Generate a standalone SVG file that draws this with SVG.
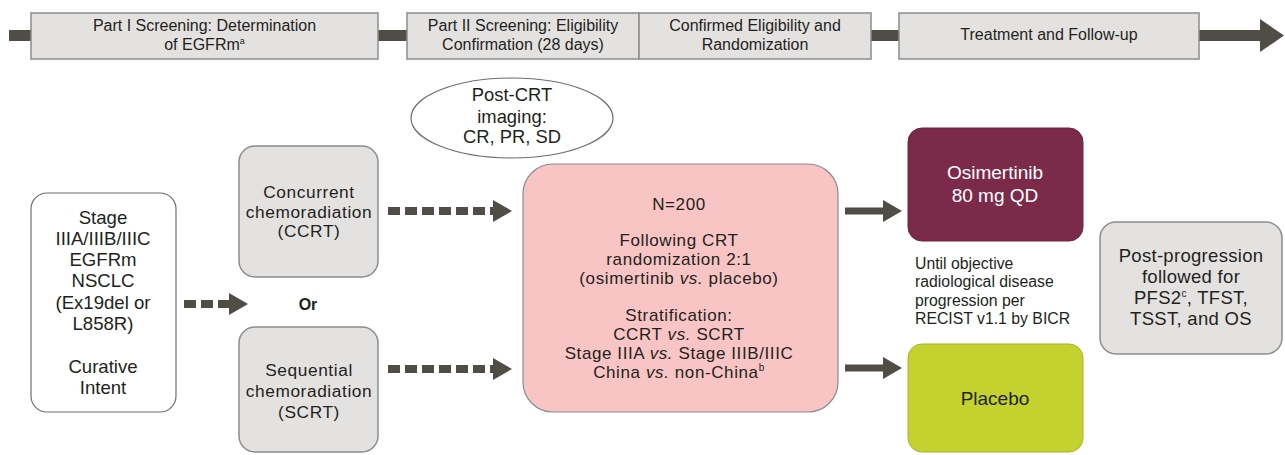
<svg xmlns="http://www.w3.org/2000/svg" width="1285" height="455" viewBox="0 0 1285 455">
<style>
text{font-family:"Liberation Sans",Arial,sans-serif;fill:#231f20;text-anchor:middle}
.top{fill:#e3e2e0;stroke:#8c8c8c;stroke-width:1.5}
.gray{fill:#e3e2e0;stroke:#8c8c8c;stroke-width:1.5}
.t15{font-size:16px}
.t17{font-size:18.6px}
.tc{font-size:17.3px;letter-spacing:0.6px}
.t18{font-size:17px;letter-spacing:0.6px}
.dash{stroke:#4f4d46;stroke-width:8;stroke-dasharray:12,5;fill:none}
.solid{stroke:#4f4d46;stroke-width:7;fill:none}
.head{fill:#4f4d46}
</style>
<rect width="1285" height="455" fill="#ffffff"/>
<g id="timeline">
<rect x="9" y="30" width="1252" height="11" fill="#4f4d46"/>
<polygon points="1260,19 1284,35.5 1260,52" fill="#4f4d46"/>
</g>
<g id="phase1">
<rect class="top" x="31" y="13" width="347" height="46"/>
<text class="t15" x="204.5" y="31">Part I Screening: Determination</text>
<text class="t15" x="204.5" y="50">of EGFRm<tspan font-size="9" dy="-6">a</tspan></text>
</g>
<g id="phase2">
<rect class="top" x="407" y="13" width="232" height="46"/>
<text class="t15" x="523" y="31">Part II Screening: Eligibility</text>
<text class="t15" x="523" y="50">Confirmation (28 days)</text>
</g>
<g id="phase3">
<rect class="top" x="639" y="13" width="232" height="46"/>
<text class="t15" x="755" y="31">Confirmed Eligibility and</text>
<text class="t15" x="755" y="50">Randomization</text>
</g>
<g id="phase4">
<rect class="top" x="899" y="13" width="300" height="46"/>
<text class="t15" x="1049" y="40">Treatment and Follow-up</text>
</g>
<g id="connectors">
<line class="dash" x1="184" y1="304" x2="230" y2="304"/>
<polygon class="head" points="229,293 248,304 229,315"/>
<line class="dash" x1="388" y1="211" x2="494" y2="211"/>
<polygon class="head" points="493,200 512,211 493,222"/>
<line class="dash" x1="388" y1="369" x2="494" y2="369"/>
<polygon class="head" points="493,358 512,369 493,380"/>
<line class="solid" x1="845" y1="211" x2="884" y2="211"/>
<polygon class="head" points="883,200 902,211 883,222"/>
<line class="solid" x1="845" y1="368" x2="884" y2="368"/>
<polygon class="head" points="883,357 902,368 883,379"/>
</g>
<g id="population">
<rect x="31" y="193" width="145" height="219" rx="16" fill="#ffffff" stroke="#6e6e6e" stroke-width="1.2"/>
<text class="t17" x="103" y="224">Stage</text>
<text class="t17" x="103" y="245">IIIA/IIIB/IIIC</text>
<text class="t17" x="103" y="266">EGFRm</text>
<text class="t17" x="103" y="287">NSCLC</text>
<text class="t17" x="103" y="309">(Ex19del or</text>
<text class="t17" x="103" y="330">L858R)</text>
<text class="t17" x="103" y="373">Curative</text>
<text class="t17" x="103" y="394">Intent</text>
</g>
<g id="or">
<text x="308" y="310" font-size="16" font-weight="bold">Or</text>
</g>
<g id="ccrt">
<rect class="gray" x="239" y="146" width="139" height="131" rx="16"/>
<text class="tc" x="309" y="198">Concurrent</text>
<text class="tc" x="309" y="217.5">chemoradiation</text>
<text class="tc" x="309" y="237">(CCRT)</text>
</g>
<g id="scrt">
<rect class="gray" x="239" y="327" width="139" height="125" rx="16"/>
<text class="tc" x="309" y="376">Sequential</text>
<text class="tc" x="309" y="397">chemoradiation</text>
<text class="tc" x="309" y="418">(SCRT)</text>
</g>
<g id="imaging">
<ellipse cx="512" cy="118" rx="101" ry="40" fill="#ffffff" stroke="#6e6e6e" stroke-width="1.2"/>
<text x="512" y="101" font-size="18.4">Post-CRT</text>
<text x="512" y="123" font-size="18.4">imaging:</text>
<text x="512" y="143" font-size="18.4">CR, PR, SD</text>
</g>
<g id="randomization">
<rect x="523" y="164" width="315" height="248" rx="30" fill="#f8c5c4" stroke="#8c8c8c" stroke-width="1.2"/>
<text class="t18" x="679" y="210">N=200</text>
<text class="t18" x="679" y="246">Following CRT</text>
<text class="t18" x="679" y="265">randomization 2:1</text>
<text class="t18" x="679" y="284">(osimertinib <tspan font-style="italic">vs.</tspan> placebo)</text>
<text class="t18" x="679" y="321">Stratification:</text>
<text class="t18" x="679" y="340">CCRT <tspan font-style="italic">vs.</tspan> SCRT</text>
<text class="t18" x="679" y="359">Stage IIIA <tspan font-style="italic">vs.</tspan> Stage IIIB/IIIC</text>
<text class="t18" x="679" y="378">China <tspan font-style="italic">vs.</tspan> non-China<tspan font-size="10" dy="-7">b</tspan></text>
</g>
<g id="osimertinib">
<rect x="908" y="128" width="175" height="113" rx="14" fill="#7c2a4a" stroke="#6a2440" stroke-width="1"/>
<text x="995" y="179" font-size="19" style="fill:#ffffff">Osimertinib</text>
<text x="995" y="202" font-size="19" style="fill:#ffffff">80 mg QD</text>
</g>
<g id="until">
<text x="915" y="269" font-size="15.8" style="text-anchor:start">Until objective</text>
<text x="915" y="287" font-size="15.8" style="text-anchor:start">radiological disease</text>
<text x="915" y="306" font-size="15.8" style="text-anchor:start">progression per</text>
<text x="915" y="324" font-size="15.8" style="text-anchor:start">RECIST v1.1 by BICR</text>
</g>
<g id="placebo">
<rect x="908" y="344" width="175" height="108" rx="14" fill="#c3d22f" stroke="#a7b42a" stroke-width="1"/>
<text x="995" y="405" font-size="19">Placebo</text>
</g>
<g id="postprogression">
<rect class="gray" x="1100" y="222" width="182" height="132" rx="16"/>
<text x="1191" y="262" font-size="18.5" letter-spacing="0.3">Post-progression</text>
<text x="1191" y="283" font-size="18.5" letter-spacing="0.3">followed for</text>
<text x="1191" y="304" font-size="18.5" letter-spacing="0.3">PFS2<tspan font-size="10" dy="-7">c</tspan><tspan dy="7">, TFST,</tspan></text>
<text x="1191" y="325" font-size="18.5" letter-spacing="0.3">TSST, and OS</text>
</g>
</svg>
